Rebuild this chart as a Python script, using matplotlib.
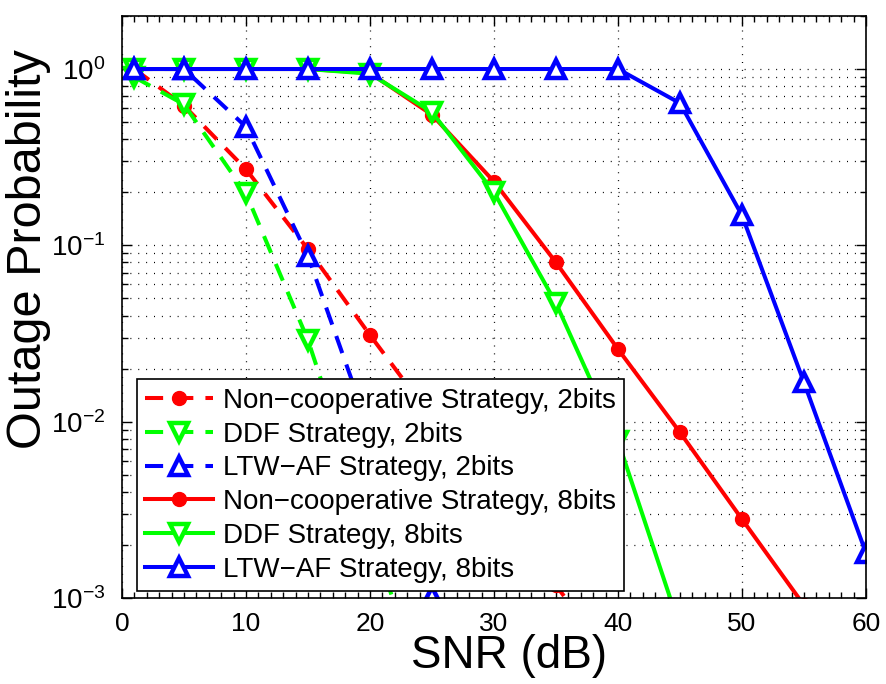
import matplotlib
matplotlib.use("Agg")
import matplotlib.pyplot as plt
from matplotlib.ticker import LogLocator, NullFormatter, MultipleLocator

plt.rcParams['font.family'] = ['Liberation Sans', 'DejaVu Sans']
plt.rcParams['mathtext.fontset'] = 'custom'
plt.rcParams['mathtext.rm'] = 'Liberation Sans'
plt.rcParams['mathtext.it'] = 'Liberation Sans'

snr = [1, 5, 10, 15, 20, 25, 30, 35, 40, 45, 50, 55, 60]

nc_2 = [1.0, 0.62, 0.27, 0.095, 0.031, 0.0105, 0.0035, 0.00118, 0.0004]
ddf_2 = [0.9, 0.63, 0.197, 0.029, 0.0025, 0.0002]
ltw_2 = [1.0, 1.0, 0.47, 0.087, 0.0088, 0.00103]
nc_8 = [1.0, 1.0, 1.0, 1.0, 0.95, 0.55, 0.23, 0.080, 0.0258, 0.0087, 0.0028, 0.00091]
ddf_8 = [1.0, 1.0, 1.0, 1.0, 0.94, 0.57, 0.20, 0.047, 0.0078, 0.00068]
ltw_8 = [1.0, 1.0, 1.0, 1.0, 1.0, 1.0, 1.0, 1.0, 1.0, 0.64, 0.148, 0.0167, 0.0018]

labels = ['Non\u2212cooperative Strategy, 2bits', 'DDF Strategy, 2bits',
          'LTW\u2212AF Strategy, 2bits', 'Non\u2212cooperative Strategy, 8bits',
          'DDF Strategy, 8bits', 'LTW\u2212AF Strategy, 8bits']

fig = plt.figure(figsize=(8.87, 6.84), dpi=100)
ax = fig.add_axes([0.1375, 0.1257, 0.8388, 0.851])

red, green, blue = '#ff0000', '#00ff00', '#0000ff'
lw = 2.9
mew = 3.2
dash = (4.5, 3.0)

def series(y):
    return snr[:len(y)], y

ax.semilogy(*series(nc_2), color=red, lw=lw, dashes=dash, marker='o', ms=10,
            mfc=red, mec=red, label=labels[0])
ax.semilogy(*series(ddf_2), color=green, lw=lw, dashes=dash, marker='v', ms=13,
            mfc='white', mec=green, mew=mew, label=labels[1])
ax.semilogy(*series(ltw_2), color=blue, lw=lw, dashes=dash, marker='^', ms=13,
            mfc='white', mec=blue, mew=mew, label=labels[2])
ax.semilogy(*series(nc_8), color=red, lw=lw, marker='o', ms=10,
            mfc=red, mec=red, label=labels[3])
ax.semilogy(*series(ddf_8), color=green, lw=lw, marker='v', ms=13,
            mfc='white', mec=green, mew=mew, label=labels[4])
ax.semilogy(*series(ltw_8), color=blue, lw=lw, marker='^', ms=13,
            mfc='white', mec=blue, mew=mew, label=labels[5])

ax.set_xlim(0, 60)
ax.set_ylim(1e-3, 2)
ax.xaxis.set_major_locator(MultipleLocator(10))
ax.xaxis.set_minor_locator(MultipleLocator(1))
ax.yaxis.set_minor_locator(LogLocator(base=10, subs=range(2, 10), numticks=20))
ax.yaxis.set_minor_formatter(NullFormatter())
ax.set_yticks([1e-3, 1e-2, 1e-1, 1])
ax.set_yticklabels(['$10^{-3}$', '$10^{-2}$', '$10^{-1}$', '$10^{0}$'])

grid_style = dict(color='black', linestyle=(0, (0.8, 5.5)), lw=0.9)
ax.grid(True, which='major', axis='both', **grid_style)
ax.grid(True, which='minor', axis='y', **grid_style)
ax.set_axisbelow(True)

ax.tick_params(which='both', direction='in', top=True, right=True, width=1.0)
ax.tick_params(which='major', length=7)
ax.tick_params(which='minor', length=4)
ax.tick_params(axis='x', which='major', labelsize=19, pad=10)
ax.tick_params(axis='y', which='major', labelsize=20, pad=12)
for s in ax.spines.values():
    s.set_linewidth(1.2)

ax.set_xlabel('SNR (dB)', fontsize=33)
ax.xaxis.set_label_coords(0.52, -0.062)
ax.set_ylabel('Outage Probability', fontsize=35)
ax.yaxis.set_label_coords(-0.095, 0.60)

leg = ax.legend(loc='lower left', bbox_to_anchor=(0.02, 0.012), fontsize=20,
                frameon=True, fancybox=False, framealpha=1, edgecolor='black',
                handlelength=2.45, handletextpad=0.35, labelspacing=0.28,
                borderpad=0.3, borderaxespad=0.0)
leg.get_frame().set_linewidth(1.2)

fig.savefig('out.png', dpi=100)
